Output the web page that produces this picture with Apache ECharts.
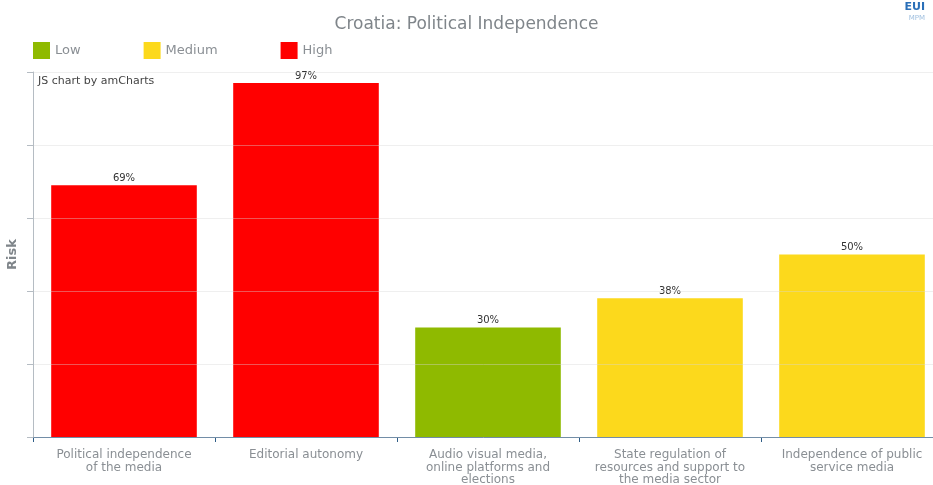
<!DOCTYPE html>
<html>
<head>
<meta charset="utf-8">
<script src="https://cdn.jsdelivr.net/npm/echarts@6/dist/echarts.min.js"></script>
<style>
html,body{margin:0;padding:0;background:#fff;overflow:hidden;}
#chart{width:933px;height:485px;}
</style>
</head>
<body>
<div id="chart"></div>
<script>
var categories = [
  'Political independence\nof the media',
  'Editorial autonomy',
  'Audio visual media,\nonline platforms and\nelections',
  'State regulation of\nresources and support to\nthe media sector',
  'Independence of public\nservice media'
];
var values = [69, 97, 30, 38, 50];
var riskLevels = ['High', 'High', 'Low', 'Medium', 'Medium'];
var levelNames = ['Low', 'Medium', 'High'];
var levelColors = ['#8fba00', '#fcd91c', '#ff0000'];

var series = levelNames.map(function (lvl, li) {
  return {
    name: lvl,
    type: 'bar',
    stack: 'risk',
    barWidth: '80%',
    itemStyle: { color: levelColors[li] },
    label: {
      show: true,
      position: 'top',
      formatter: function (p) { return p.value == null ? '' : p.value + '%'; },
      color: '#333',
      fontSize: 10,
      fontFamily: 'DejaVu Sans',
      distance: 2
    },
    data: values.map(function (v, i) { return riskLevels[i] === lvl ? v : null; })
  };
});

var chart = echarts.init(document.getElementById('chart'));
chart.setOption({
  animation: false,
  backgroundColor: '#fff',
  textStyle: { fontFamily: 'DejaVu Sans' },
  title: {
    text: 'Croatia: Political Independence',
    left: 'center',
    top: 11,
    textStyle: { color: '#7f858a', fontSize: 17, fontWeight: 'normal', fontFamily: 'DejaVu Sans' }
  },
  legend: {
    data: levelNames,
    left: 28,
    top: 37,
    itemWidth: 17,
    itemHeight: 17,
    itemGap: 63,
    icon: 'rect',
    textStyle: { color: '#8a8f94', fontSize: 13, fontFamily: 'DejaVu Sans' }
  },
  graphic: [
    { type: 'text', left: 38, top: 76, style: { text: 'JS chart by amCharts', fill: '#444', font: '11px DejaVu Sans' } },
    { type: 'text', right: 8, top: 2, style: { text: 'EUI', fill: '#2a6fb8', font: 'bold 11px DejaVu Sans' } },
    { type: 'text', right: 8, top: 15, style: { text: 'MPM', fill: '#9fbfdf', font: '7px DejaVu Sans' } }
  ],
  grid: { left: 33, width: 910, top: 72, height: 365, outerBoundsMode: 'none', containLabel: false },
  xAxis: {
    type: 'category',
    data: categories,
    axisLine: { lineStyle: { color: '#2f5d87', width: 1 } },
    axisTick: { show: true, length: 5, interval: 0, lineStyle: { color: '#2f5d87' } },
    axisLabel: { interval: 0, hideOverlap: false, color: '#8a8f94', fontSize: 12, lineHeight: 12.5, margin: 12, fontFamily: 'DejaVu Sans' }
  },
  yAxis: {
    type: 'value',
    min: 0,
    max: 100,
    interval: 20,
    z: 3,
    name: 'Risk',
    nameLocation: 'middle',
    nameGap: 14,
    nameTextStyle: { color: '#7f858a', fontSize: 13, fontWeight: 'bold', fontFamily: 'DejaVu Sans' },
    axisLine: { show: true, lineStyle: { color: '#b5bcc3' } },
    axisTick: { show: true, length: 6, lineStyle: { color: '#b5bcc3' } },
    axisLabel: { show: false },
    splitLine: { show: true, lineStyle: { color: 'rgba(215,215,215,0.4)', width: 1 } }
  },
  series: series
});
</script>
</body>
</html>
